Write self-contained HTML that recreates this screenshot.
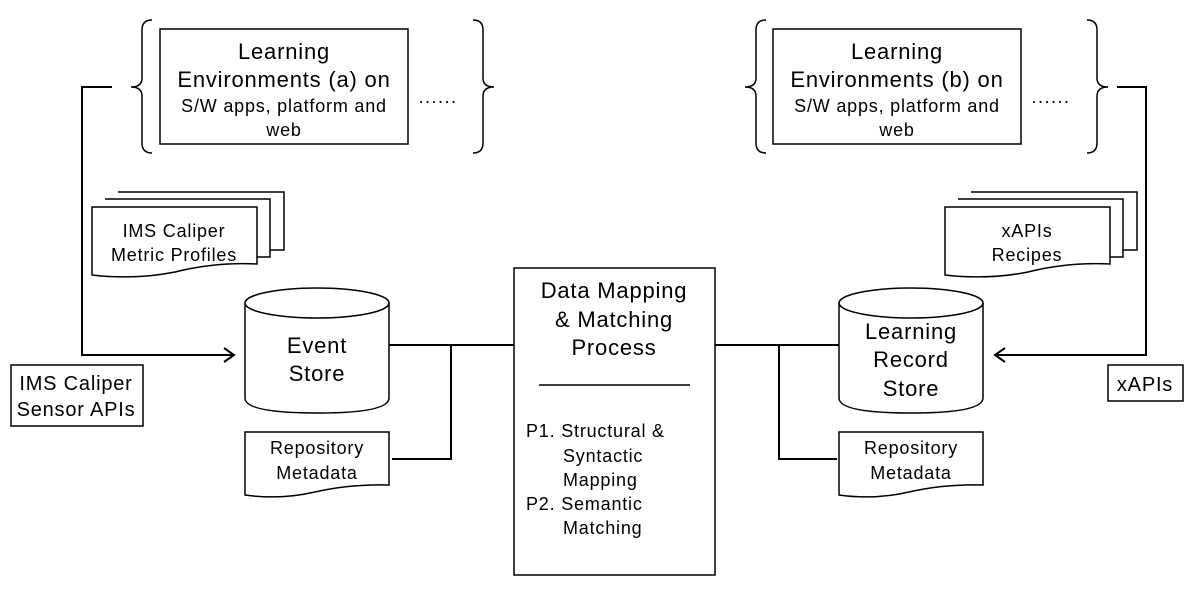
<!DOCTYPE html>
<html><head><meta charset="utf-8"><style>
html,body{margin:0;padding:0;background:#fff}
svg{display:block}
text{font-family:"Liberation Sans","Noto Sans CJK KR",sans-serif;fill:#000;text-anchor:middle;letter-spacing:0.8px}
</style></head><body>
<svg width="1195" height="591" viewBox="0 0 1195 591" xmlns="http://www.w3.org/2000/svg">
<g fill="none" stroke="#000" stroke-width="1.5">
<path d="M152 20 Q142 20 142 30 L142 78 Q142 87 131 87 Q142 87 142 96 L142 143 Q142 153 152 153"/>
<path d="M473 20 Q483 20 483 30 L483 78 Q483 87 494 87 Q483 87 483 96 L483 143 Q483 153 473 153"/>
<path d="M766 20 Q756 20 756 30 L756 78 Q756 87 745 87 Q756 87 756 96 L756 143 Q756 153 766 153"/>
<path d="M1087 20 Q1097 20 1097 30 L1097 78 Q1097 87 1108 87 Q1097 87 1097 96 L1097 143 Q1097 153 1087 153"/>
<rect x="160" y="29" width="248" height="115"/>
<rect x="773" y="29" width="248" height="115"/>
<path d="M112 87 L82 87 L82 355 L234 355" stroke-width="2"/>
<path d="M224 348 L234 355 L224 362" stroke-width="2"/>
<path d="M1117 87 L1146 87 L1146 355 L995 355" stroke-width="2"/>
<path d="M1005 348 L995 355 L1005 362" stroke-width="2"/>
<path d="M118 192 L284 192 L284 250 L270 250" fill="#fff"/>
<path d="M105 199 L270 199 L270 257 L257 257" fill="#fff"/>
<path d="M92 207 L257 207 L257 264 Q215 262 175 272 Q135 280 92 275 Z" fill="#fff"/>
<path d="M971 192 L1137 192 L1137 250 L1123 250" fill="#fff"/>
<path d="M958 199 L1123 199 L1123 257 L1110 257" fill="#fff"/>
<path d="M945 207 L1110 207 L1110 264 Q1068 262 1028 272 Q988 280 945 275 Z" fill="#fff"/>
<rect x="11" y="365" width="132" height="61"/>
<rect x="1108" y="365" width="75" height="36"/>
<path d="M245 303 L245 398 Q245 413 317 413 Q389 413 389 398 L389 303"/>
<ellipse cx="317" cy="303" rx="72" ry="15"/>
<path d="M839 303 L839 398 Q839 413 911 413 Q983 413 983 398 L983 303"/>
<ellipse cx="911" cy="303" rx="72" ry="15"/>
<path d="M245 432 L389 432 L389 485 Q350 484 315 492 Q280 500 245 495 Z"/>
<path d="M839 432 L983 432 L983 485 Q944 484 909 492 Q874 500 839 495 Z"/>
<rect x="514" y="268" width="201" height="307"/>
<line x1="539" y1="385" x2="690" y2="385"/>
<path d="M389 345 L514 345 M451 345 L451 459 L392 459" stroke-width="2"/>
<path d="M715 345 L839 345 M779 345 L779 459 L837 459" stroke-width="2"/>
</g>
<text x="284" y="59" font-size="22">Learning</text>
<text x="284" y="87" font-size="22">Environments (a) on</text>
<text x="284" y="112" font-size="18">S/W apps, platform and</text>
<text x="284" y="136" font-size="18">web</text>
<text x="897" y="59" font-size="22">Learning</text>
<text x="897" y="87" font-size="22">Environments (b) on</text>
<text x="897" y="112" font-size="18">S/W apps, platform and</text>
<text x="897" y="136" font-size="18">web</text>
<text x="438" y="103" font-size="18" style="letter-spacing:1.5px">......</text>
<text x="1051" y="103" font-size="18" style="letter-spacing:1.5px">......</text>
<text x="174" y="237" font-size="18">IMS Caliper</text>
<text x="174" y="261" font-size="18">Metric Profiles</text>
<text x="1027" y="237" font-size="18">xAPIs</text>
<text x="1027" y="261" font-size="18">Recipes</text>
<text x="76" y="390" font-size="20">IMS Caliper</text>
<text x="76" y="416" font-size="20">Sensor APIs</text>
<text x="1145" y="391" font-size="20">xAPIs</text>
<text x="317" y="353" font-size="22">Event</text>
<text x="317" y="381" font-size="22">Store</text>
<text x="911" y="339" font-size="22">Learning</text>
<text x="911" y="367" font-size="22">Record</text>
<text x="911" y="396" font-size="22">Store</text>
<text x="317" y="454" font-size="18">Repository</text>
<text x="317" y="479" font-size="18">Metadata</text>
<text x="911" y="454" font-size="18">Repository</text>
<text x="911" y="479" font-size="18">Metadata</text>
<text x="614" y="298" font-size="22">Data Mapping</text>
<text x="614" y="327" font-size="22">&amp; Matching</text>
<text x="614" y="355" font-size="22">Process</text>
<text x="526" y="437" font-size="18" style="text-anchor:start">P1. Structural &amp;</text>
<text x="563" y="462" font-size="18" style="text-anchor:start">Syntactic</text>
<text x="563" y="486" font-size="18" style="text-anchor:start">Mapping</text>
<text x="526" y="510" font-size="18" style="text-anchor:start">P2. Semantic</text>
<text x="563" y="534" font-size="18" style="text-anchor:start">Matching</text>
</svg>
</body></html>
